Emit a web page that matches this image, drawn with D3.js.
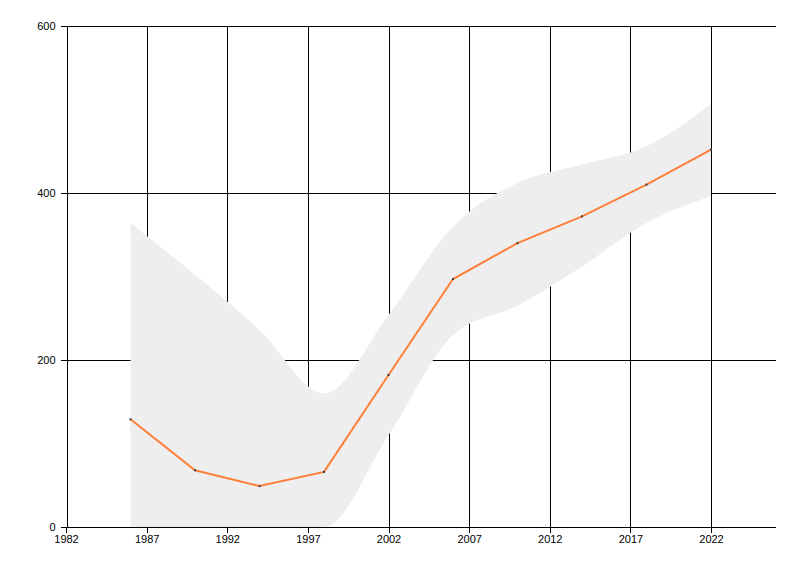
<!DOCTYPE html>
<html><head><meta charset="utf-8">
<script src="https://cdn.jsdelivr.net/npm/d3@7/dist/d3.min.js"></script>
<style>body{margin:0;background:#fff}svg{display:block}</style>
</head><body><svg id="c" width="800" height="576"></svg>
<script>
const years = [1986, 1990, 1994, 1998, 2002, 2006, 2010, 2014, 2018, 2022];
const values = [129, 68, 49, 66, 182, 297, 340, 372, 410, 452];
const upper = [364, 302, 236, 160, 254, 360, 412, 434, 456, 507];
const lower = [0, 0, 0, 0, 110, 230, 265, 312, 364, 396];
const xTicks = [1982, 1987, 1992, 1997, 2002, 2007, 2012, 2017, 2022];
const yTicks = [0, 200, 400, 600];

const svg = d3.select("#c");
const x = d3.scaleLinear().domain([1982, 2026]).range([66, 775.5]);
const y = d3.scaleLinear().domain([0, 600]).range([527, 26]);
const font = "'Liberation Sans', Arial, sans-serif";

// gridlines
const g = svg.append("g").attr("stroke", "#000").attr("stroke-width", 1).attr("shape-rendering", "crispEdges");
g.selectAll(".v").data(xTicks.slice(1)).join("line")
  .attr("x1", d => Math.round(x(d)) + 0.5).attr("x2", d => Math.round(x(d)) + 0.5)
  .attr("y1", y(600)).attr("y2", y(0));
g.selectAll(".h").data(yTicks.slice(1)).join("line")
  .attr("x1", x(1982)).attr("x2", x(2026))
  .attr("y1", d => Math.round(y(d)) + 0.5).attr("y2", d => Math.round(y(d)) + 0.5);

// band
const band = years.map((yr, i) => ({yr, lo: lower[i], hi: upper[i]}));
svg.append("path").datum(band)
  .attr("fill", "#eeeeee")
  .attr("d", d3.area().curve(d3.curveMonotoneX).x(d => x(d.yr)).y0(d => y(d.lo)).y1(d => y(d.hi)));

// axes
const xa = svg.append("g").attr("transform", `translate(0,${Math.round(y(0)) + 0.5})`)
  .call(d3.axisBottom(x).tickValues(xTicks).tickFormat(d3.format("d")).tickSize(5).tickSizeOuter(0));
const ya = svg.append("g").attr("transform", `translate(${Math.round(x(1982)) + 0.5},0)`)
  .call(d3.axisLeft(y).tickValues(yTicks).tickSize(6).tickSizeOuter(0));
[xa, ya].forEach(a => {
  a.select(".domain").attr("stroke", "#000").attr("shape-rendering", "crispEdges");
  a.selectAll(".tick line").attr("stroke", "#000").attr("shape-rendering", "crispEdges");
  a.selectAll("text").attr("fill", "#000").attr("font-family", font).attr("font-size", "11px");
});
xa.selectAll(".tick text").attr("dy", "0.95em").attr("y", 5);
ya.selectAll(".tick text").attr("x", -11);
xa.select(".domain").attr("d", `M${x(1982)},0H${x(2026)}`);

// line
const pts = years.map((yr, i) => ({yr, v: values[i]}));
svg.append("path").datum(pts)
  .attr("fill", "none").attr("stroke", "#ff7f3a").attr("stroke-width", 2)
  .attr("d", d3.line().x(d => x(d.yr)).y(d => y(d.v)));
svg.selectAll(".pt").data(pts).join("rect")
  .attr("x", d => x(d.yr) - 1).attr("y", d => y(d.v) - 1)
  .attr("width", 2).attr("height", 2).attr("fill", "#404040");
</script></body></html>
